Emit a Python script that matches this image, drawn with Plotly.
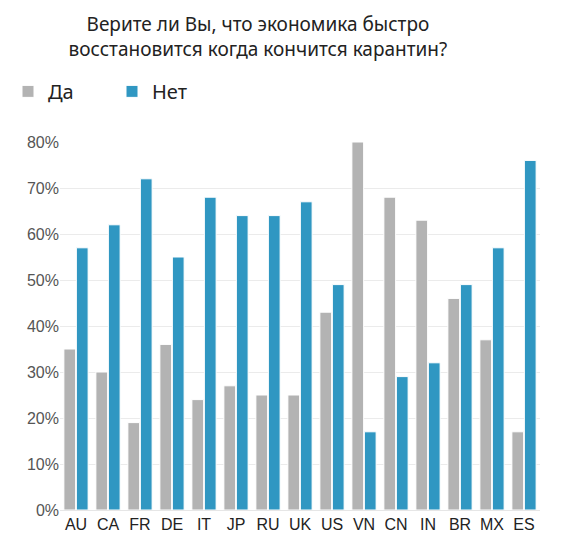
import plotly.graph_objects as go

# Survey data (percent)
countries = ["AU", "CA", "FR", "DE", "IT", "JP", "RU", "UK", "US", "VN", "CN", "IN", "BR", "MX", "ES"]
yes_values = [35, 30, 19, 36, 24, 27, 25, 25, 43, 80, 68, 63, 46, 37, 17]
no_values = [57, 62, 72, 55, 68, 64, 64, 67, 49, 17, 29, 32, 49, 57, 76]
y_ticks = [0, 10, 20, 30, 40, 50, 60, 70, 80]

fig = go.Figure()
fig.add_trace(go.Bar(x=countries, y=yes_values, name="Да",
                     marker=dict(color="#b3b3b3", line=dict(color="white", width=1))))
fig.add_trace(go.Bar(x=countries, y=no_values, name="Нет",
                     marker=dict(color="#3097c2", line=dict(color="white", width=1))))

fig.update_layout(
    width=568, height=545,
    margin=dict(l=52, r=36, t=134, b=43),
    paper_bgcolor="white", plot_bgcolor="white",
    barmode="group", bargap=0.22, bargroupgap=0.06,
    font=dict(family="Noto Sans", color="#404040"),
    title=dict(text="Верите ли Вы, что экономика быстро<br>восстановится когда кончится карантин?",
               x=0.44, xanchor="center", y=0.958, yanchor="top",
               font=dict(size=19, color="#222222")),
    legend=dict(orientation="h", xref="container", x=-0.01, xanchor="left",
                yref="container", y=0.847, yanchor="middle",
                font=dict(size=20, color="#222222"),
                itemwidth=30, entrywidth=59, traceorder="normal"),
    showlegend=True,
)
fig.update_xaxes(tickfont=dict(size=16, family="Liberation Sans", color="#222222"),
                 tickangle=0, showline=True, linecolor="#e6e6e6", ticks="")
fig.update_yaxes(range=[0, 80], tickvals=y_ticks, ticktext=[f"{v}%" for v in y_ticks],
                 tickfont=dict(size=16, family="Liberation Sans", color="#555555"),
                 gridcolor="#ebebeb", zeroline=False, ticks="")

fig.write_html("out.html")
